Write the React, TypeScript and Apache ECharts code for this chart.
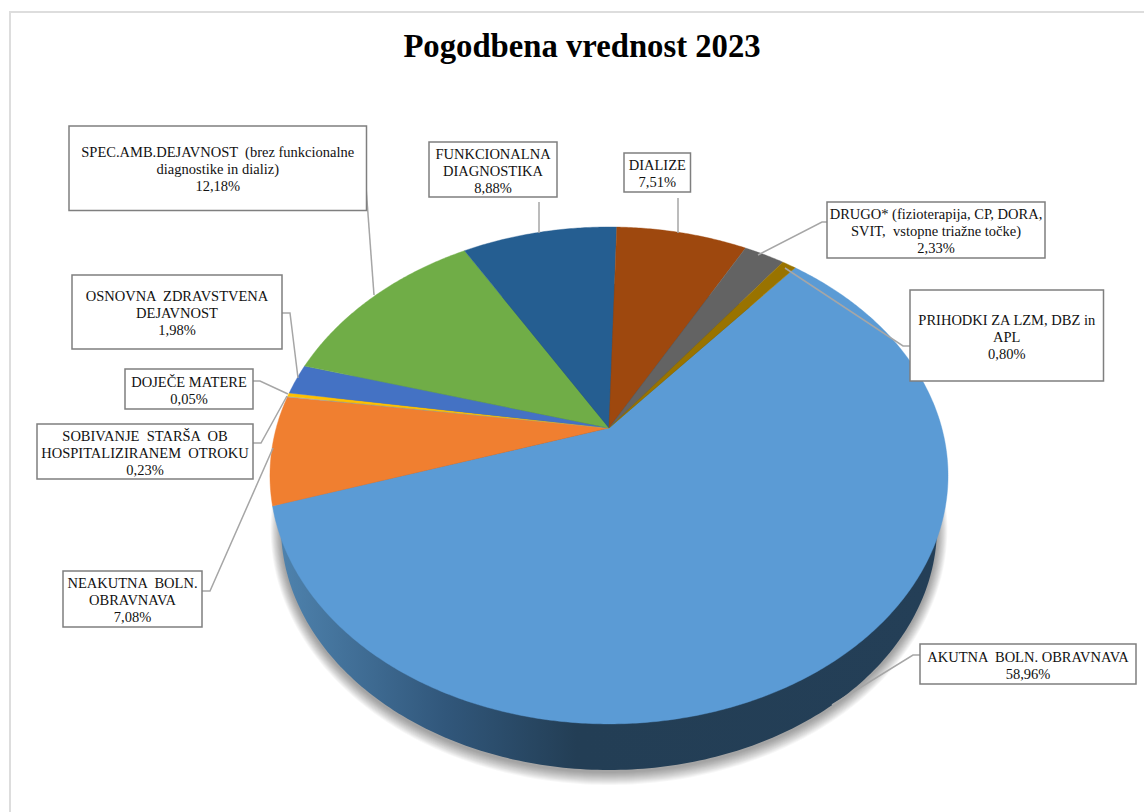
import React, { useEffect, useRef } from "react";
import * as echarts from "echarts";

const categories = [
  "AKUTNA BOLN. OBRAVNAVA",
  "NEAKUTNA BOLN. OBRAVNAVA",
  "DOJEČE MATERE",
  "SOBIVANJE STARŠA OB HOSPITALIZIRANEM OTROKU",
  "OSNOVNA ZDRAVSTVENA DEJAVNOST",
  "SPEC.AMB.DEJAVNOST (brez funkcionalne diagnostike in dializ)",
  "FUNKCIONALNA DIAGNOSTIKA",
  "DIALIZE",
  "DRUGO* (fizioterapija, CP, DORA, SVIT, vstopne triažne točke)",
  "PRIHODKI ZA LZM, DBZ in APL",
];
const values = [58.96, 7.08, 0.05, 0.23, 1.98, 12.18, 8.88, 7.51, 2.33, 0.8];
const colors = ["#5B9BD5", "#F07F30", "#A5A5A5", "#FFC000", "#4472C4", "#70AD47", "#255E91", "#9E480E", "#636363", "#997300"];
const labelLines = [
  ["AKUTNA  BOLN. OBRAVNAVA"],
  ["NEAKUTNA  BOLN.", "OBRAVNAVA"],
  ["DOJEČE MATERE"],
  ["SOBIVANJE  STARŠA  OB", "HOSPITALIZIRANEM  OTROKU"],
  ["OSNOVNA  ZDRAVSTVENA", "DEJAVNOST"],
  ["SPEC.AMB.DEJAVNOST  (brez funkcionalne", "diagnostike in dializ)"],
  ["FUNKCIONALNA", "DIAGNOSTIKA"],
  ["DIALIZE"],
  ["DRUGO* (fizioterapija, CP, DORA,", "SVIT,  vstopne triažne točke)"],
  ["PRIHODKI ZA LZM, DBZ in", "APL"],
];
const titleText = "Pogodbena vrednost 2023";

// layout: [x0, y0, x1, y1] of each label box, same order as categories
const boxes = [
  [920, 644, 1136, 684],
  [63, 571, 202, 627],
  [125, 369, 253, 409],
  [37, 424, 253, 479],
  [72, 275, 282, 349],
  [69, 126, 366.5, 210.5],
  [429, 142, 557, 197],
  [624, 153, 690.5, 192],
  [827, 202, 1045, 258],
  [910, 290, 1103.5, 381],
];
const leaders = [
  [[920, 655], [913, 655], [832, 705]],
  [[202, 591], [210, 591], [273, 448]],
  [[253, 381], [260, 381], [288, 394]],
  [[253, 443], [261, 443], [287, 396]],
  [[282, 313], [290, 313], [298, 378]],
  [[366, 187], [374, 295]],
  [[539, 202], [539, 233]],
  [[678, 198], [678, 233]],
  [[827, 222], [822, 222], [758, 255]],
  [[910, 346], [903, 346], [785, 268]],
];

// perspective pie geometry
const CX = 609, CY = 428, A = 332.8, B = 239.4, K = 0.191, START = 39.9;
const BASE = { x: 609, y: 527, rx: 328, ry: 243 };
const SHADOW_STEPS = 13;
const project = (deg: number) => {
  const t = (deg * Math.PI) / 180;
  const u = Math.sin(t), v = Math.cos(t);
  const w = 1 + K * v;
  return [CX + (A * u) / w, CY - (B * v) / w];
};
const ellipsePts = (x: number, y: number, rx: number, ry: number) => {
  const pts: number[][] = [];
  for (let d = 0; d < 360; d += 1) {
    const t = (d * Math.PI) / 180;
    pts.push([x + rx * Math.sin(t), y + ry * Math.cos(t)]);
  }
  return pts;
};

export default function App() {
  const ref = useRef<HTMLDivElement>(null);
  useEffect(() => {
    document.body.style.margin = "0";
    const chart = echarts.init(ref.current!, null, { renderer: "svg" });
    const total = values.reduce((s, v) => s + v, 0);
    const fmt = (v: number) => v.toFixed(2).replace(".", ",") + "%";
    const graphic: any[] = [
      { type: "rect", shape: { x: 10, y: 12, width: 1300, height: 1000 }, style: { fill: "none", stroke: "#DDDDDD", lineWidth: 2 }, z: 1 },
    ];
    leaders.forEach((pts) =>
      graphic.push({ type: "polyline", shape: { points: pts }, style: { fill: "none", stroke: "#A6A6A6", lineWidth: 1.5 }, z: 20 })
    );
    boxes.forEach((b, i) => {
      graphic.push({
        type: "rect",
        shape: { x: b[0], y: b[1], width: b[2] - b[0], height: b[3] - b[1] },
        style: { fill: "#FFFFFF", stroke: "#7F7F7F", lineWidth: 1.5 },
        z: 21,
      });
      graphic.push({
        type: "text",
        x: (b[0] + b[2]) / 2,
        y: (b[1] + b[3]) / 2 + 1,
        style: {
          text: [...labelLines[i], fmt(values[i])].join("\n"),
          fontFamily: "Liberation Serif",
          fontSize: 14.5,
          lineHeight: 17,
          fill: "#111111",
          align: "center",
          verticalAlign: "middle",
        },
        z: 22,
      });
    });
    chart.setOption({
      animation: false,
      title: {
        text: titleText,
        left: 577,
        top: 24,
        textAlign: "center",
        textStyle: { fontFamily: "Liberation Serif", fontWeight: "bold", fontSize: 32.7, color: "#000000" },
      },
      graphic,
      series: [
        {
          type: "custom",
          coordinateSystem: "none",
          silent: true,
          z: 2,
          data: [1],
          renderItem: () => {
            const children: any[] = [];
            for (let i = SHADOW_STEPS; i >= 1; i--) {
              children.push({
                type: "polygon",
                shape: { points: ellipsePts(BASE.x, BASE.y + 2, BASE.rx + i * 0.8, BASE.ry + i) },
                style: { fill: "#000000", opacity: 0.03 },
              });
            }
            children.push({
              type: "polygon",
              shape: { points: ellipsePts(BASE.x, BASE.y, BASE.rx, BASE.ry) },
              style: {
                fill: new echarts.graphic.LinearGradient(0, 0, 1, 0, [
                  { offset: 0, color: "#4E82AD" },
                  { offset: 0.25, color: "#31577B" },
                  { offset: 0.45, color: "#233E55" },
                  { offset: 1, color: "#243F57" },
                ]),
              },
            });
            return { type: "group", children };
          },
        },
        {
          type: "custom",
          coordinateSystem: "none",
          silent: true,
          z: 3,
          data: values,
          renderItem: (params: any, api: any) => {
            const idx = params.dataIndex;
            const before = values.slice(0, idx).reduce((s, v) => s + v, 0);
            const a0 = START + (before / total) * 360;
            const a1 = a0 + (api.value(0) / total) * 360;
            const pts: number[][] = [[CX, CY]];
            const n = Math.max(2, Math.ceil((a1 - a0) * 2));
            for (let j = 0; j <= n; j++) pts.push(project(a0 + ((a1 - a0) * j) / n));
            return {
              type: "polygon",
              shape: { points: pts },
              style: { fill: colors[idx], stroke: colors[idx], lineWidth: 0.4 },
            };
          },
        },
      ],
    });
    return () => chart.dispose();
  }, []);
  return <div ref={ref} style={{ width: 1144, height: 812 }} />;
}
